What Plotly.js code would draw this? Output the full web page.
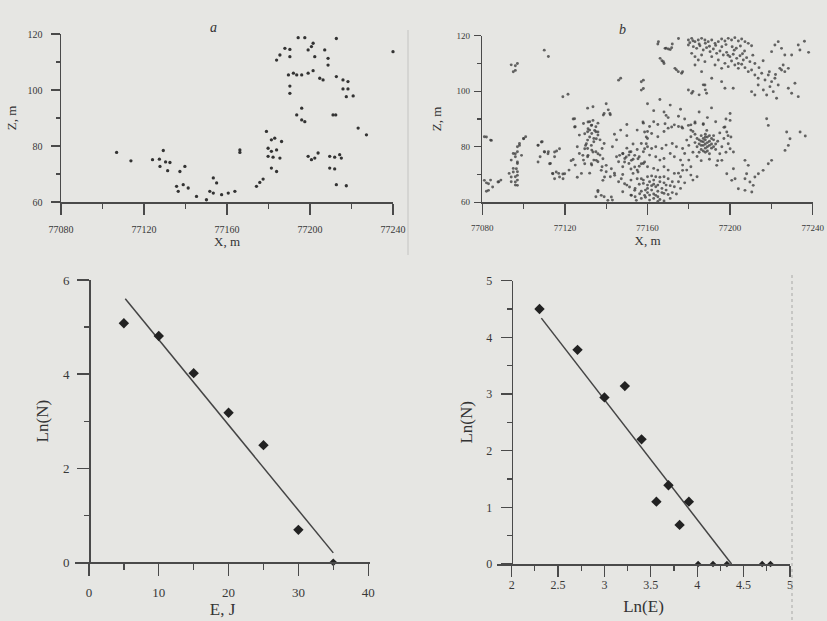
<!DOCTYPE html>
<html><head><meta charset="utf-8">
<script src="https://cdn.plot.ly/plotly-3.0.1.min.js"></script>
<style>html,body{margin:0;padding:0;background:#e6e6e3;}#chart{width:827px;height:621px;}</style>
</head><body><div id="chart"></div>
<script>
// Panel a: event locations (X, Z)
const aPts = [
[77106.8,77.7],[77113.7,74.7],[77124.1,75.1],[77127.4,75.3],[77129.3,78.4],[77130.4,74.3],[77132.5,74.1],[77127.7,72.7],[77131.4,71.2],[77137.3,70.9],[77139.7,72.7],[77135.7,65.6],[77136.5,63.8],[77138.9,66.2],[77141.3,65.0],[77145.3,62.0],[77150.1,60.8],[77153.4,68.6],[77155,66.8],[77151.7,63.8],[77153.4,63.2],[77157.4,62.6],[77160.6,63.2],[77163.8,63.8],[77166.2,78.6],[77166.2,77.7],[77174.2,65.6],[77175.8,67.0],[77177.4,68.2],[77179,85.2],[77181.4,82.2],[77183,82.8],[77186.3,81.6],[77179.8,79.2],[77181.4,78.1],[77183.9,78.6],[77179.8,76.3],[77182.2,76.0],[77185.5,75.7],[77181.4,72.1],[77183.9,70.9],[77183.9,110.7],[77185.5,112.5],[77187.9,114.9],[77190.3,114.5],[77190.3,111.9],[77194.3,118.7],[77197.5,118.7],[77199.1,114.3],[77200.7,115.5],[77201.5,116.7],[77202.3,111.9],[77207.1,114.3],[77208.7,111.3],[77208.7,108.9],[77212.7,118.4],[77213.5,120.2],[77189.6,105.4],[77192,106.0],[77193.6,105.4],[77196,105.4],[77199.1,106.0],[77201.5,106.9],[77204.7,104.2],[77206.3,103.6],[77190.3,101.4],[77190.3,98.8],[77212.7,104.8],[77215.9,103.6],[77218.3,103.0],[77215.9,100.4],[77218.3,100.4],[77217.5,97.6],[77220.8,97.9],[77196,93.5],[77193.6,91.1],[77196,89.3],[77197.5,88.7],[77211.1,91.1],[77212.4,91.1],[77223.2,86.4],[77227.2,84.0],[77240,113.7],[77199.1,76.3],[77200.7,75.1],[77203.9,77.5],[77202.3,75.7],[77209.5,76.3],[77211.9,76.0],[77214.3,76.9],[77215.1,75.7],[77209.5,72.1],[77211.9,71.8],[77212.7,66.2],[77217.5,65.8]
];
// Panel b: event locations (X, Z)
const bPts = [
[77081,83.6],[77084,82.4],[77082,83.5],[77084.4,82.3],[77082,67],[77084,68],[77082,64],[77088,67.4],[77089,68],[77081,67.9],[77083,66.7],[77085,65.5],[77087.6,67.3],[77083,64.3],
[77094,109.5],[77096,107.5],[77097,110],[77096,109.2],[77095,107],
[77100,83],[77101,83.6],[77098,81.2],[77097,80],[77097,78.2],[77095,77.6],[77096,76.4],[77094,75.2],[77097,74],[77095,72.2],[77097,71],[77093,70.4],[77096,69.2],[77094,67.4],[77096,66.2],[77097,68],
[77098,80.5],[77100,82.9],[77099,76.9],[77096,77.5],[77097,74.5],[77095,70.9],[77096.5,72.1],[77097,69.7],[77096,67.3],[77097,66.1],[77094,69.1],
[77107,80.6],[77109,81.8],[77110,78.2],[77108,76.4],[77112,78.2],[77116,78.5],[77115,76.4],[77113,74],[77114,70.4],[77117,70.4],[77119,70.2],
[77107,80.5],[77108.6,81.7],[77110.2,78.1],[77111.8,77.5],[77115,78.1],[77117.4,79.3],[77107,74.5],[77112.6,73.9],[77114.2,70.3],[77115.8,70.9],[77117.4,69.1],[77119.9,70.3],[77119.1,68.5],[77115,68.5],
[77110,114.8],[77112,112.5],[77119,98],[77121.5,98.9],
[77124,90],[77125,87.2],[77127,84.2],[77129,88.4],[77126,80],[77127,77.6],[77129,75.2],[77125,73.4],[77124,75.4],[77128,70.4],[77122,71.6],[77131,93.9],[77133.6,94.4],
[77124.7,90.1],[77124.7,87.1],
[77132,89],[77133,87.8],[77135,87.2],[77131,85.4],[77133,84.8],[77135,85.4],[77136,84.2],[77131,82.4],[77134,81.8],[77131,79.4],[77133,78.8],[77135,78.2],[77131,76.4],[77134,75.2],[77136,74.6],[77133,73.4],[77137,77],[77138,79.4],[77139,81.2],[77132,86],[77134,83],[77136,88.5],[77130,80.5],[77137,82.5],
[77131.2,88.9],[77132.8,87.7],[77133.6,89.5],[77131.2,86.5],[77134.4,85.9],[77129.6,84.7],[77132,83.5],[77136,85.3],[77135.2,82.9],[77130.4,81.1],[77132.8,80.5],[77129.6,79.3],[77133.6,78.1],[77131.2,76.9],[77128.7,76.9],[77136,77.5],[77135.2,75.1],[77132.8,73.9],[77129.6,73.9],[77138.4,75.7],[77140,73.3],[77137.6,71.5],[77139.2,69.1],[77138.4,67.9],[77142.5,72.1],[77144.1,69.7],
[77139,92],[77141,93.3],[77142,91.5],[77140,95.5],[77147,104.7],[77146,104],[77141.8,92],[77138.6,91.4],
[77138,72.8],[77140,71],[77142,69.2],[77136,63.8],[77135,62],[77139,62],[77143,60.8],[77126,69],[77132,70.5],[77123,75],
[77136,64.3],[77137.6,62.5],[77140.8,60.7],[77142.5,61.9],
[77145,76.4],[77146,74.6],[77148,77.6],[77149,75.8],[77151,77],[77152,78.2],[77151,74],[77148,72.8],[77146,67.4],[77150,66.2],[77148,63.8],[77152,68],[77153,70.4],[77155,71.6],[77154,65],[77152,62.6],[77157,61.4],[77159,64.4],[77158,68],[77160,69.2],
[77146.5,76.9],[77148.1,77.5],[77149.7,76.3],[77151.3,78.1],[77148.9,74.5],[77152.2,75.1],[77153.8,76.9],[77155.4,75.7],[77157,73.9],[77158.6,74.5],[77158.6,79.3],[77159.4,81.1],[77157.8,88.9],[77158.6,85.3],[77159.4,83.5],[77153.8,72.7],[77155.4,70.9],[77157,68.5],[77147.3,68.5],[77148.9,66.7],[77151.3,65.5],[77153.8,64.3],[77156.2,63.1],[77158.6,62.5],[77152.2,62.5],[77154.6,60.7],
[77158,104],[77158,101],[77157,103.4],[77157,100.4],
[77165,117],[77169,115.5],[77171,115],[77167,111],[77168,110],[77174,107.7],[77177,107],
[77158,66.8],[77160,66.2],[77161,67.4],[77160,65],[77162,64.4],[77164,65.6],[77165,66.2],[77163,68],[77164,69.2],[77166,67.4],[77167,65],[77161,62.6],[77163,61.4],[77165,62],[77168,63.2],[77169,64.4],[77171,61.4],[77169,66.2],[77172,67.4],[77168,69.2],[77173,65.6],[77175,67.4],[77176,69.2],[77173,70.4],[77170,71.6],[77168,72.8],[77165,71.6],[77163,72.2],[77160,72.8],[77158,74],[77156,76.4],[77158,78.2],[77161,77],[77164,76.4],[77166,75.2],[77168,75.8],[77171,77.6],[77173,76.4],[77176,75.2],[77177,73.4],[77179,71.6],[77181,69.8],[77182,68],[77184,69.2],[77181,72.8],[77180,75.2],[77178,77.6],[77177,79.4],[77174,80],[77172,81.2],[77169,80.6],[77167,79.4],[77164,80],[77162,79.4],[77160,80],[77157,81.2],[77160,83],[77162,84.8],[77161,87.3],[77160,85.5],[77165,83.6],[77168,85.5],[77170,86.7],[77173,87.9],[77175,87.3],[77177,86.7],[77181,87.9],[77183,88.5],[77182,85.5],[77181,83.6],[77179,82.4],
[77161,60.8],[77163,63],[77165,64],[77166,61],[77167,63.5],[77162,66],[77164,62.5],[77166,69],[77170,62.8],[77172,63.5],[77160,63.5],[77162,69.5],[77168,67],[77170,68.5],[77163,66.5],[77159,61.8],[77157,64],[77156,66.5],[77155,68.5],[77154,62],[77171,66],[77174,63],[77176,65],[77178,67],[77175,70.5],[77177,71.5],[77168,60.5],[77165,60.3],
[77143,80],[77145,82.5],[77150,79.5],[77153,81],[77155,79],[77150,84],[77155,86],[77158,88.5],[77163,89],[77165,88],[77170,90.5],[77175,91],[77168,92.5],[77163,93],[77160,95.5],[77166,97],[77171,95],[77176,93.5],[77178,90],[77150,88],[77147,86],[77144,84.5],[77153,75.5],[77156,73],[77148,70],[77152,72],[77144,70.5],
[77169,91.3],[77168.5,88.3],[77171.7,87.1],[77176.6,87.1],[77179.8,87.7],[77183,88.9],[77187,88.3],[77188.7,85.9],[77188,83.5],
[77184,80],[77185,81],[77186,82],[77187,83],[77188,82.5],[77189,81.5],[77190,80.5],[77191,79.5],[77186,79],[77187,80.5],[77188,79.5],[77189,83.5],[77190,82],[77191,81],[77192,82.5],[77193,81],[77185,82.5],[77186,84],[77187,78.5],[77188,78],[77189,80],[77190,84],[77191,83],[77192,80],[77193,79],[77194,82],[77184,83],[77183,81.5],[77185,78],[77188,84.5],[77187,81.8],[77189,78.5],[77190,77.5],[77186,80.5],[77192,84],[77188,81],
[77181,86],[77183,84.5],[77195,85],[77196,80],[77195,77.5],[77197,83],[77182,78],[77180,80.5],[77184,76.5],[77186,75],[77190,75.5],[77194,75],[77198,78],[77199,84],[77197,87],[77198,90],[77200,92],[77193,89],[77189,90.5],[77187,88],[77185,92.5],[77191,94],
[77200,89.5],[77217.7,90.1],[77218.5,87.7],[77227.4,85.3],[77229,82.9],[77233.9,85.3],[77236.4,83.9],[77228.2,80.5],[77226.6,78.7],[77220.1,75.1],[77218.5,73.9],[77216,71.5],[77213.7,70.3],[77212,69.1],[77208,70.3],[77207.2,68.5],[77209.6,67.3],[77211.2,66.1],[77207.2,64.3],[77210.5,63.7],[77204,64.9],[77202.4,68.5],[77200.8,67.9],[77201.6,72.1],[77198.4,70.3],[77196,75.1],[77193.5,73.3],[77207.2,75.1],[77208.8,73.3],[77200,79.3],[77201.6,78.1],[77199.1,81.1],[77197.5,87.1],[77198.4,85.3],[77200.4,83.5],
[77182,99.9],[77185,98.7],[77188,100.5],[77187,102.3],
[77179.8,118.45],[77181.4,119.05],[77183,117.85],[77184.6,118.45],[77186.2,119.05],[77187.8,118.45],[77189.4,117.85],[77191.1,118.45],[77192.7,117.25],[77194.3,117.85],[77195.9,118.8],[77197.5,118.1],[77199.1,119.05],[77200.7,118.45],[77202.3,119.3],[77204,118.1],[77205.6,118.8],[77207.2,117.85],[77208.8,117.25],[77210.4,116.4],
[77179.8,116.65],[77182.2,116.05],[77183.8,115.45],[77185.4,116.4],[77187,114.85],[77188.6,115.7],[77190.3,114.25],[77191.9,115.2],[77193.5,113.65],[77195.1,114.5],[77196.7,113.05],[77198.3,114],[77199.9,112.45],[77201.5,113.3],[77203.2,111.85],[77204.8,112.8],[77206.4,111.25],[77208,112.1],[77209.6,110.65],
[77181.4,113.65],[77183,112.45],[77184.6,111.25],[77186.2,113.05],[77187.8,110.65],[77191.1,112.45],[77192.7,109.45],[77194.3,111.25],[77195.9,108.25],[77197.5,110.05],[77199.1,108.85],[77200.7,110.9],[77202.3,109.45],[77204,108.25],[77205.6,109.7],[77207.2,108.5],[77208.8,107.05],[77210.4,107.65],[77212,105.85],[77213.6,104.65],[77215.3,106.45],[77216.9,104.05],[77218.5,105.85],[77220.1,103.45],[77221.7,104.65],[77223.3,102.25],[77224.9,107.65],[77226.5,107.05],[77228.2,101.05],[77229.8,99.25],[77231.4,102.85],[77233,98.05],
[77210.4,99.85],[77212,98.65],[77213.6,102.25],[77216.1,100.45],[77217.7,98.65],[77219.3,101.65],[77220.9,99.85],[77222.5,97.45],[77197.5,101.05],[77201.5,101.05],[77187.8,102.25],[77188.6,99.25],[77179.8,100.45],[77181.4,99.25],[77174.9,107.05],[77176.5,106.45],
[77165.3,117.85],[77166.1,111.85],[77167.7,110.65],[77168.5,115.45],[77170.1,115.2],[77171.7,115.7],[77173.3,108.25],[77220.1,114.25],[77221.7,116.65],[77223.3,117.85],[77224.9,115.45],[77226.5,113.05],[77233,116.65],[77233.8,114.85],[77229.8,113.05],[77228.2,108.25],[77224.1,108.25],[77225.7,109.45],[77195.9,103.45],[77191.1,104.65],[77186.2,107.05],[77183,109.45],
[77180.5,117.5],[77182,118.2],[77185,117],[77188,117.3],[77190,116.2],[77193,116.5],[77196,116],[77198,116.8],[77201,116],[77203,115.5],[77205,116.3],[77207,114.5],[77202,114.8],[77199,113],[77204,110],[77206,113.5],[77211,113],[77212,110],[77214,108.5],[77216,111],[77219,107],[77222,106],[77236,118],[77238,114],[77175,119],[77172,117]
];
const aX = aPts.map(p => p[0]), aZ = aPts.map(p => p[1]);
const bX = bPts.map(p => p[0]), bZ = bPts.map(p => p[1]);

// Panel c: Ln(N) vs E
const cE = [5, 10, 15, 20, 25, 30, 35];
const cLnN = [5.08, 4.81, 4.02, 3.18, 2.49, 0.69, 0];
const cFitE = [5.2, 35];
const cFitLnN = [5.6, 0.2];

// Panel d: Ln(N) vs Ln(E)
const dLnE = [2.30, 2.71, 3.00, 3.22, 3.40, 3.56, 3.69, 3.81, 3.91, 4.01, 4.17, 4.32, 4.70, 4.79];
const dLnN = [4.50, 3.78, 2.94, 3.14, 2.20, 1.10, 1.39, 0.69, 1.10, 0, 0, 0, 0, 0];
const dFitLnE = [2.32, 4.37];
const dFitLnN = [4.34, 0];

const serif = '"Liberation Serif", "Times New Roman", serif';
const axCol = '#4a4a4a';
const px = v => v / 827, py = v => 1 - v / 621;

function xax(o) {
  return Object.assign({
    showline: true, linecolor: axCol, linewidth: 1.5, mirror: false,
    ticks: 'outside', tickcolor: axCol, tickwidth: 1.3,
    showgrid: false, zeroline: false, fixedrange: true,
    tickfont: {family: serif, size: 10, color: '#383838'}
  }, o);
}

const traces = [
  {x: aX, y: aZ, xaxis: 'x', yaxis: 'y', type: 'scatter', mode: 'markers', cliponaxis: false,
   marker: {size: 3.3, color: '#333'}, hoverinfo: 'skip'},
  {x: bX, y: bZ, xaxis: 'x2', yaxis: 'y2', type: 'scatter', mode: 'markers', cliponaxis: false,
   marker: {size: 2.9, color: 'rgba(60,60,60,0.78)'}, hoverinfo: 'skip'},
  {x: cFitE, y: cFitLnN, xaxis: 'x3', yaxis: 'y3', type: 'scatter', mode: 'lines',
   line: {color: '#444', width: 1.5}, hoverinfo: 'skip'},
  {x: cE, y: cLnN, xaxis: 'x3', yaxis: 'y3', type: 'scatter', mode: 'markers', cliponaxis: false,
   marker: {symbol: 'diamond', size: cLnN.map(v => v === 0 ? 6 : 8), color: '#222', opacity: 1,
            line: {width: 0}}, hoverinfo: 'skip'},
  {x: dFitLnE, y: dFitLnN, xaxis: 'x4', yaxis: 'y4', type: 'scatter', mode: 'lines',
   line: {color: '#444', width: 1.5}, hoverinfo: 'skip'},
  {x: dLnE, y: dLnN, xaxis: 'x4', yaxis: 'y4', type: 'scatter', mode: 'markers', cliponaxis: false,
   marker: {symbol: 'diamond', size: dLnN.map(v => v === 0 ? 5 : 8), color: '#222', opacity: 1,
            line: {width: 0}}, hoverinfo: 'skip'}
];

const layout = {
  width: 827, height: 621,
  margin: {l: 0, r: 0, t: 0, b: 0},
  paper_bgcolor: '#e6e6e3', plot_bgcolor: '#e6e6e3',
  showlegend: false,
  font: {family: serif, color: '#333'},
  xaxis: xax({domain: [px(61), px(393)], range: [77080, 77240], anchor: 'y',
    tick0: 77080, dtick: 40, tickformat: 'd', ticklen: 11, ticklabelstandoff: 6,
    minor: {dtick: 20, tick0: 77080, ticks: 'outside', ticklen: 5, tickcolor: axCol},
    title: {text: 'X, m', font: {family: serif, size: 13}, standoff: 2}}),
  yaxis: xax({domain: [py(202), py(34)], range: [60, 120], anchor: 'x',
    tick0: 60, dtick: 20, ticklen: 9, ticklabelstandoff: 6,
    minor: {dtick: 10, tick0: 60, ticks: 'outside', ticklen: 4, tickcolor: axCol},
    title: {text: 'Z, m', font: {family: serif, size: 13}, standoff: 8}}),
  xaxis2: xax({domain: [px(482.3), px(812.7)], range: [77080, 77240], anchor: 'y2',
    tick0: 77080, dtick: 40, tickformat: 'd', ticklen: 11, ticklabelstandoff: 5,
    tickfont: {family: serif, size: 9, color: '#383838'},
    minor: {dtick: 20, tick0: 77080, ticks: 'outside', ticklen: 5, tickcolor: axCol},
    title: {text: 'X, m', font: {family: serif, size: 13}, standoff: 2}}),
  yaxis2: xax({domain: [py(202.3), py(35.7)], range: [60, 120], anchor: 'x2',
    tick0: 60, dtick: 20, ticklen: 7, ticklabelstandoff: 2,
    tickfont: {family: serif, size: 9, color: '#383838'},
    minor: {dtick: 10, tick0: 60, ticks: 'outside', ticklen: 4, tickcolor: axCol},
    title: {text: 'Z, m', font: {family: serif, size: 13}, standoff: 12}}),
  xaxis3: xax({domain: [px(75), px(370)], range: [-2, 40.26], anchor: 'y3',
    tick0: 0, dtick: 10, ticklen: 12, ticklabelstandoff: 6,
    tickfont: {family: serif, size: 13, color: '#383838'},
    minor: {dtick: 5, tick0: 0, ticks: 'outside', ticklen: 6, tickcolor: axCol},
    title: {text: 'E, J', font: {family: serif, size: 17}, standoff: 2}}),
  yaxis3: xax({domain: [py(562.3), py(280)], range: [0, 6], anchor: 'free', position: px(89),
    tick0: 0, dtick: 2, ticklen: 12, ticklabelstandoff: 5,
    tickfont: {family: serif, size: 13, color: '#383838'},
    minor: {dtick: 1, tick0: 0, ticks: 'outside', ticklen: 5, tickcolor: axCol},
    title: {text: 'Ln(N)', font: {family: serif, size: 17}, standoff: 8}}),
  xaxis4: xax({domain: [px(497), px(790)], range: [1.842, 5.0], anchor: 'y4',
    tick0: 2, dtick: 0.5, ticklen: 11, ticklabelstandoff: -2,
    tickfont: {family: serif, size: 12, color: '#383838'},
    minor: {dtick: 0.25, tick0: 2, ticks: 'outside', ticklen: 5, tickcolor: axCol},
    title: {text: 'Ln(E)', font: {family: serif, size: 17}, standoff: 9}}),
  yaxis4: xax({domain: [py(564), py(280.7)], range: [0, 5], anchor: 'free', position: px(511.7),
    tick0: 0, dtick: 1, ticklen: 11, ticklabelstandoff: 6,
    tickfont: {family: serif, size: 12, color: '#383838'},
    minor: {dtick: 0.5, tick0: 0, ticks: 'outside', ticklen: 5, tickcolor: axCol},
    title: {text: 'Ln(N)', font: {family: serif, size: 17}, standoff: 8}}),
  annotations: [
    {text: '<i>a</i>', xref: 'paper', yref: 'paper', x: px(208), y: py(18), showarrow: false,
     font: {family: serif, size: 14, color: '#333'}},
    {text: '<i>b</i>', xref: 'paper', yref: 'paper', x: px(628), y: py(20), showarrow: false,
     font: {family: serif, size: 14, color: '#333'}}
  ],
  shapes: [
    {type: 'line', xref: 'paper', yref: 'paper', x0: px(408), x1: px(408), y0: py(30), y1: py(255),
     line: {color: '#c4c4c2', width: 1}},
    {type: 'line', xref: 'paper', yref: 'paper', x0: px(792), x1: px(792), y0: py(275), y1: py(621),
     line: {color: '#a8a8a6', width: 1, dash: 'dot'}}
  ]
};

Plotly.newPlot('chart', traces, layout, {staticPlot: true, displayModeBar: false});
</script>
</body></html>
